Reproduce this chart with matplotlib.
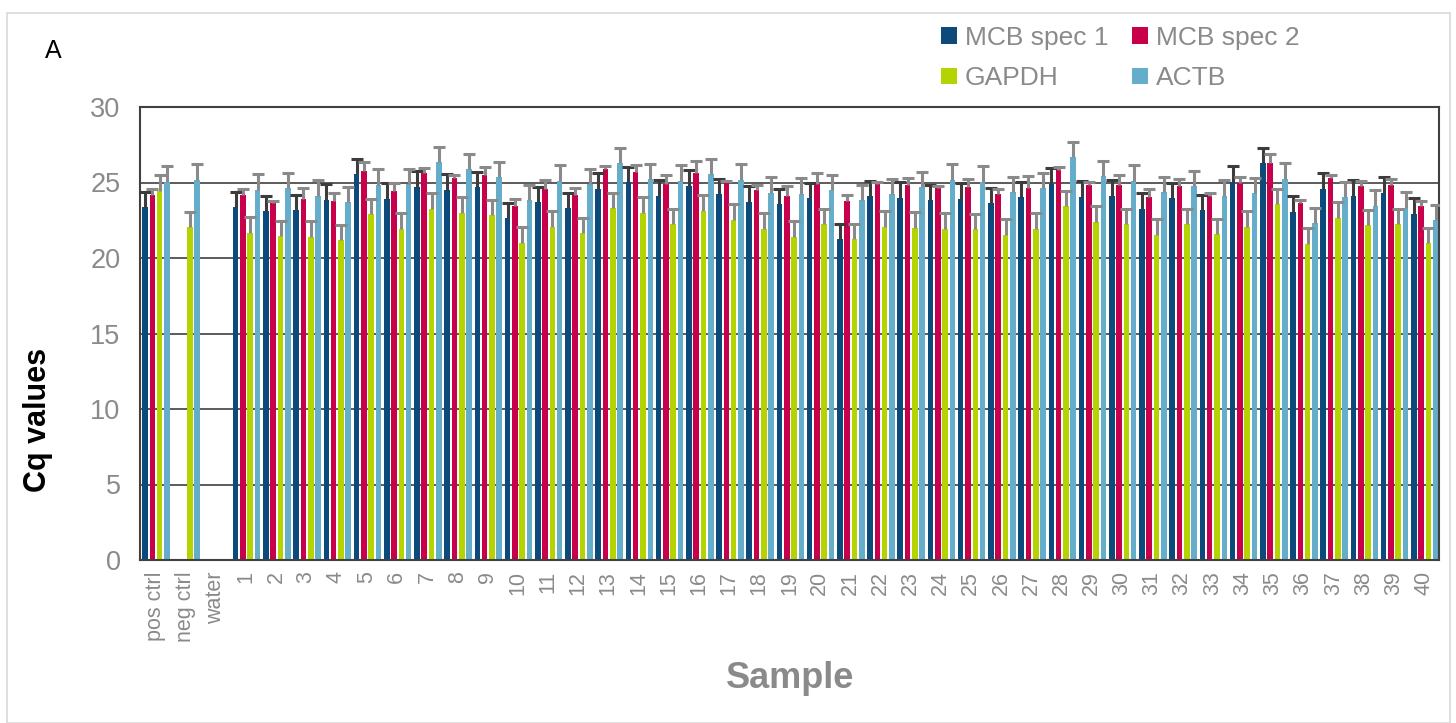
import numpy as np
import matplotlib
matplotlib.use("Agg")
import matplotlib.pyplot as plt
from matplotlib.patches import Patch, Rectangle

plt.rcParams['font.family'] = ['Liberation Sans', 'DejaVu Sans']

categories = ['pos ctrl', 'neg ctrl', 'water'] + [str(i) for i in range(1, 41)]
nan = np.nan

mcb1 = [23.36, nan, nan,
        23.38, 23.11, 23.16, 23.84, 25.54, 23.91, 24.73, 24.50, 24.70, 22.63,
        23.71, 23.29, 24.59, 25.01, 24.13, 24.79, 24.22, 23.73, 23.55, 23.95,
        21.23, 24.08, 23.99, 23.84, 23.93, 23.66, 24.04, 24.90, 24.04, 24.10,
        23.27, 23.97, 23.16, 25.05, 26.27, 23.07, 24.57, 24.13, 24.30, 22.91]
mcb1_err = [1.03, nan, nan,
            1.00, 1.02, 1.01, 1.06, 1.04, 1.08, 1.00, 1.04, 1.02, 1.01,
            1.02, 1.04, 1.04, 1.02, 1.04, 1.01, 1.04, 1.04, 1.04, 1.04,
            1.00, 1.02, 1.04, 1.02, 1.01, 1.00, 1.02, 1.04, 1.04, 1.04,
            1.03, 1.02, 0.99, 1.04, 1.01, 1.03, 1.04, 1.04, 1.04, 1.04]

mcb2 = [24.15, nan, nan,
        24.15, 23.64, 23.91, 23.80, 25.79, 24.46, 25.61, 25.32, 25.50, 23.47,
        24.57, 24.17, 25.89, 25.70, 24.88, 25.63, 25.03, 24.53, 24.13, 24.88,
        23.75, 24.92, 24.81, 24.66, 24.70, 24.22, 24.61, 25.85, 24.83, 24.86,
        24.06, 24.75, 24.10, 24.99, 26.29, 23.62, 25.32, 24.77, 24.83, 23.47]
mcb2_err = [0.45, nan, nan,
            0.42, 0.13, 0.70, 0.50, 0.60, 0.50, 0.37, 0.15, 0.55, 0.46,
            0.60, 0.47, 0.20, 0.46, 0.64, 0.77, 0.10, 0.33, 0.64, 0.73,
            0.42, 0.14, 0.46, 0.13, 0.53, 0.35, 0.80, 0.20, 0.20, 0.66,
            0.50, 0.48, 0.20, 0.40, 0.58, 0.24, 0.20, 0.30, 0.38, 0.33]

gapdh = [24.46, 22.03, nan,
         21.66, 21.46, 21.39, 21.17, 22.91, 21.94, 23.27, 22.98, 22.85, 21.02,
         22.08, 21.63, 23.29, 23.00, 22.25, 23.11, 22.54, 21.94, 21.41, 22.25,
         21.23, 22.05, 22.01, 21.94, 21.90, 21.52, 21.92, 23.44, 22.41, 22.25,
         21.52, 22.25, 21.59, 22.05, 23.58, 20.95, 22.67, 22.19, 22.25, 20.97]
gapdh_err = [1.04, 1.04, nan,
             1.03, 1.01, 1.06, 1.02, 1.00, 1.02, 1.01, 1.04, 1.01, 1.01,
             1.05, 1.00, 1.01, 1.02, 1.02, 1.04, 1.01, 1.02, 1.06, 1.02,
             1.02, 1.04, 1.04, 1.02, 0.99, 1.04, 1.04, 1.02, 1.01, 1.02,
             1.04, 1.02, 1.01, 1.04, 1.01, 1.01, 1.04, 1.01, 1.02, 1.02]

actb = [25.05, 25.14, nan,
        24.50, 24.61, 24.10, 23.71, 24.83, 24.90, 26.33, 25.92, 25.34, 23.84,
        25.07, 24.88, 26.27, 25.21, 25.10, 25.54, 25.17, 24.30, 24.26, 24.48,
        23.86, 24.24, 24.68, 25.19, 25.05, 24.37, 24.61, 26.67, 25.45, 25.10,
        24.39, 24.77, 24.13, 24.30, 25.21, 22.32, 24.04, 23.47, 23.33, 22.52]
actb_err = [1.05, 1.10, nan,
            1.04, 1.04, 1.04, 1.00, 1.04, 1.00, 1.04, 1.00, 1.04, 1.00,
            1.06, 1.04, 1.04, 1.04, 1.04, 1.04, 1.04, 1.04, 1.04, 1.04,
            1.00, 1.00, 1.00, 1.04, 1.04, 1.00, 1.04, 1.04, 1.00, 1.04,
            1.00, 1.00, 1.04, 1.02, 1.06, 1.00, 1.00, 1.04, 1.06, 1.00]

series = ['MCB spec 1', 'MCB spec 2', 'GAPDH', 'ACTB']
values = [mcb1, mcb2, gapdh, actb]
errors = [mcb1_err, mcb2_err, gapdh_err, actb_err]
colors = ['#0b4a7a', '#c8004b', '#b5d300', '#65aecb']
err_colors = ['#3c3c3c', '#8a8a8a', '#8a8a8a', '#8a8a8a']

W, H = 1456, 723
fig = plt.figure(figsize=(W / 100, H / 100), dpi=100)
fig.patches.append(Rectangle((7 / W, 0.0), (1450 - 7) / W, 1 - 13 / H,
                             transform=fig.transFigure, fill=False,
                             edgecolor='#d9d9d9', linewidth=1.2))

ax = fig.add_axes([140 / W, 1 - 560 / H, (1439 - 140) / W, (560 - 107) / H])
x = np.arange(len(categories))
step = 0.242
bw = 0.185
for i, (vals, errs, c, ec) in enumerate(zip(values, errors, colors, err_colors)):
    v = np.array(vals, dtype=float)
    e = np.array(errs, dtype=float)
    pos = x + (i - 1.5) * step + 0.03
    ax.bar(pos, np.nan_to_num(v), width=bw, color=c, zorder=2, linewidth=0)
    eb = ax.errorbar(pos, v, yerr=[np.zeros_like(e), e], fmt='none', ecolor=ec,
                     elinewidth=2.2, capsize=4.2, capthick=2.2, zorder=3)
    caplines = eb[1]
    if len(caplines) >= 2:
        caplines[0].set_visible(False)

ax.set_xlim(-0.5, len(categories) - 0.5)
ax.set_ylim(0, 30)
ax.set_yticks(np.arange(0, 31, 5))
ax.yaxis.grid(True, color='#404040', linewidth=1.2, zorder=0)
ax.set_axisbelow(True)
ax.set_xticks(x)
ax.set_xticklabels(categories, rotation=90, fontsize=15.5, color='#8a8a8a')
ax.tick_params(axis='y', labelsize=19.5, colors='#8a8a8a', length=0, pad=14)
ax.tick_params(axis='x', length=0, pad=8)
for s in ax.spines.values():
    s.set_color('#404040')
    s.set_linewidth(1.5)

fig.text(38 / W, 1 - 420 / H, 'Cq values', rotation=90, ha='center', va='center',
         fontsize=22, fontweight='bold', color='black')
fig.text(790 / W, 1 - 678 / H, 'Sample', ha='center', va='center',
         fontsize=26, fontweight='bold', color='#8a8a8a')
fig.text(53 / W, 1 - 51 / H, 'A', ha='center', va='center', fontsize=18, color='black')

handles = [Patch(facecolor=c, edgecolor='none') for c in colors]
order = [0, 2, 1, 3]
leg = fig.legend([handles[k] for k in order], [series[k] for k in order],
                 ncol=2, loc='upper left',
                 bbox_to_anchor=(941 / W, 1 - 26 / H), frameon=False,
                 fontsize=19, handlelength=0.6, handleheight=0.6,
                 handletextpad=0.3, columnspacing=0.9, labelspacing=0.62,
                 borderaxespad=0, borderpad=0)
for t in leg.get_texts():
    t.set_color('#8a8a8a')

fig.savefig('out.png', dpi=100)
